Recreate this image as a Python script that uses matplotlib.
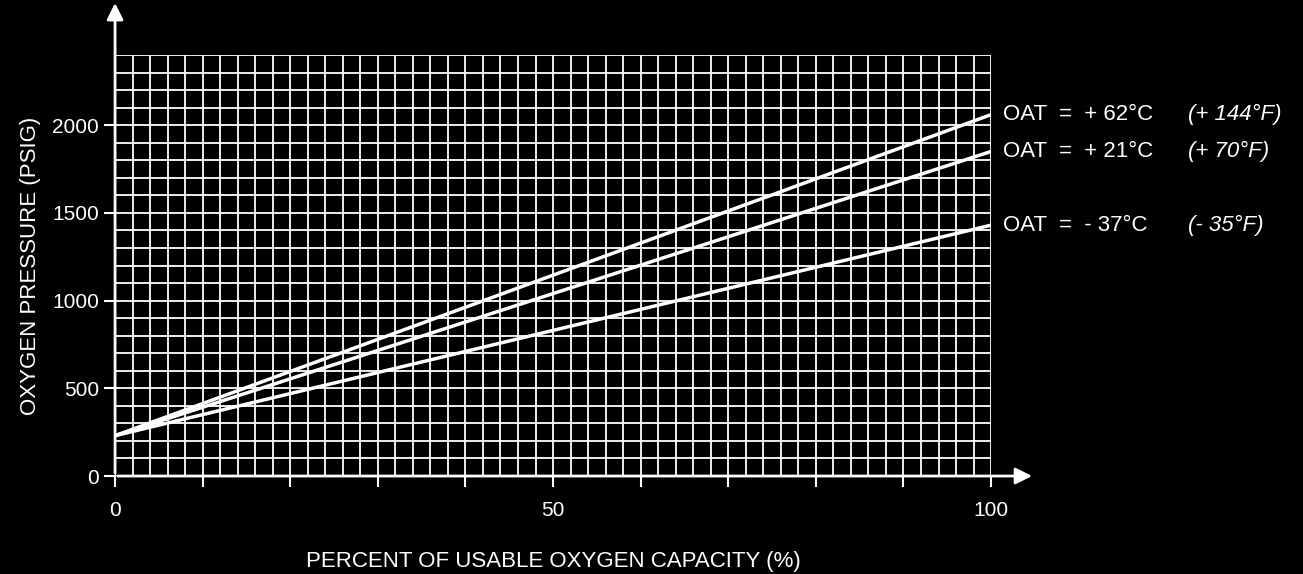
import matplotlib
matplotlib.use("Agg")
import matplotlib.pyplot as plt
import numpy as np

x_pts = [0, 100]
series = {
    "hot": [230, 2060],
    "std": [230, 1850],
    "cold": [230, 1430],
}
labels = [("OAT  =  + 62°C", "(+ 144°F)", 2060),
          ("OAT  =  + 21°C", "(+ 70°F)", 1850),
          ("OAT  =  - 37°C", "(- 35°F)", 1430)]
xticks = [0, 50, 100]
yticks = [0, 500, 1000, 1500, 2000]

plt.rcParams['font.family'] = ['Liberation Sans', 'DejaVu Sans']
fig = plt.figure(figsize=(13.03, 5.74), dpi=100, facecolor='black')
ax = fig.add_axes([0.0883, 0.1707, 0.6723, 0.7335], facecolor='black')
ax.set_xlim(0, 100)
ax.set_ylim(0, 2400)
for gx in np.arange(0, 101, 2):
    ax.axvline(gx, color='white', lw=1.3, zorder=1)
for gy in np.arange(0, 2401, 100):
    ax.axhline(gy, color='white', lw=1.3, zorder=1)
for k, ys in series.items():
    ax.plot(x_pts, ys, color='white', lw=2.5, zorder=3, solid_capstyle='butt')
for s in ax.spines.values():
    s.set_visible(False)
ax.set_xticks(np.arange(0, 101, 10))
ax.set_xticklabels([str(v) if v in xticks else "" for v in range(0, 101, 10)])
ax.set_yticks(yticks)
ax.tick_params(colors='white', labelsize=15, length=8, width=1.5, direction='out')
ax.tick_params(axis='x', pad=10)
ax.annotate("", xy=(1.05, 0), xytext=(0, 0), xycoords='axes fraction',
            arrowprops=dict(arrowstyle='-|>', color='white', lw=2, mutation_scale=25))
ax.annotate("", xy=(0, 1.13), xytext=(0, 0), xycoords='axes fraction',
            arrowprops=dict(arrowstyle='-|>', color='white', lw=2, mutation_scale=25))
for main, f, y in labels:
    ax.text(101.4, y, main, color='white', fontsize=16, va='center', clip_on=False)
    ax.text(122.5, y, f, color='white', fontsize=16, va='center', style='italic', clip_on=False)
ax.set_xlabel("PERCENT OF USABLE OXYGEN CAPACITY (%)", color='white', fontsize=16, labelpad=22)
ax.set_ylabel("OXYGEN PRESSURE (PSIG)", color='white', fontsize=16, labelpad=8)
fig.savefig("out.png", dpi=100, facecolor='black')
